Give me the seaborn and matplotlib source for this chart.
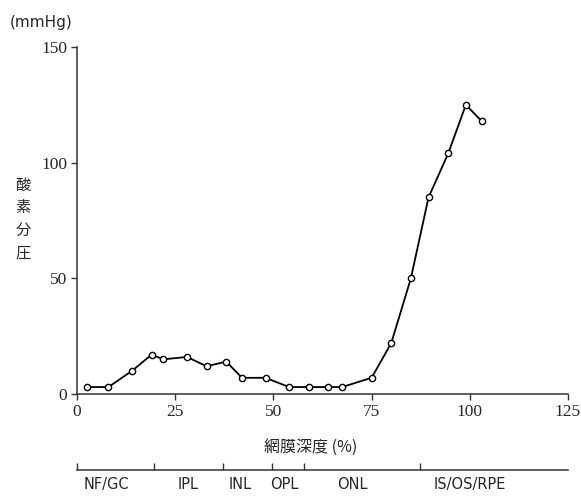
import matplotlib
matplotlib.use("Agg")
import matplotlib.pyplot as plt
import seaborn as sns
import pandas as pd

# retinal depth (%) and oxygen partial pressure (mmHg)
depth = [2.5, 8, 14, 19, 22, 28, 33, 38, 42, 48, 54, 59, 64, 67.5, 75, 80, 85, 89.5, 94.5, 99, 103]
po2 = [3, 3, 10, 17, 15, 16, 12, 14, 7, 7, 3, 3, 3, 3, 7, 22, 50, 85, 104, 125, 118]

x_ticks = [0, 25, 50, 75, 100, 125]
y_ticks = [0, 50, 100, 150]

# retinal layers under the x axis
layer_bounds = [0, 19.7, 37.2, 49.6, 57.7, 87.3]
layer_names = ["NF/GC", "IPL", "INL", "OPL", "ONL", "IS/OS/RPE"]
layer_centers = [7.6, 28.2, 41.5, 52.7, 70.2, 100]

df = pd.DataFrame({"depth": depth, "po2": po2})

sns.set_style("ticks")
plt.rcParams["font.family"] = ["Noto Sans CJK JP", "DejaVu Sans"]

fig = plt.figure(figsize=(5.81, 4.97), dpi=100)
left, right = 77 / 581, 568 / 581
bottom, top = 1 - 394 / 497, 1 - 47 / 497
ax = fig.add_axes([left, bottom, right - left, top - bottom])

sns.lineplot(data=df, x="depth", y="po2", ax=ax, color="black", linewidth=1.3,
             marker="o", markersize=4.5, markerfacecolor="white",
             markeredgecolor="black", markeredgewidth=1.0)

ax.set_xlim(0, 125)
ax.set_ylim(0, 150)
ax.set_xticks(x_ticks)
ax.set_yticks(y_ticks)
ax.set_xticklabels([str(t) for t in x_ticks], family="Liberation Serif", fontsize=12.5)
ax.set_yticklabels([str(t) for t in y_ticks], family="Liberation Serif", fontsize=12.5)
ax.tick_params(direction="out", length=4, width=1, color="#333333", pad=3)
for s in ["left", "bottom"]:
    ax.spines[s].set_color("#333333")
    ax.spines[s].set_linewidth(1.1)
sns.despine(ax=ax)
ax.set_ylabel("")
ax.set_xlabel("網膜深度 (%)", fontsize=11.5, family=["Noto Sans CJK JP", "DejaVu Sans"])
ax.xaxis.set_label_coords(0.475, -0.13)

fig.text(10 / 581, 1 - 22 / 497, "(mmHg)", fontsize=11, va="center", ha="left",
         family="DejaVu Sans")
for i, ch in enumerate("酸素分圧"):
    fig.text(23 / 581, 1 - (185 + 22.7 * i) / 497, ch, fontsize=11, ha="center", va="center")

# layer bar
ax2 = fig.add_axes([left, 1 - 470 / 497, right - left, 0.0001])
ax2.set_xlim(0, 125)
ax2.set_ylim(0, 1)
ax2.patch.set_alpha(0)
for s in ["left", "right", "top"]:
    ax2.spines[s].set_visible(False)
ax2.spines["bottom"].set_color("#333333")
ax2.spines["bottom"].set_linewidth(1.1)
ax2.set_yticks([])
ax2.set_xticks(layer_bounds)
ax2.set_xticklabels([""] * len(layer_bounds))
ax2.set_xticks(layer_centers, minor=True)
ax2.set_xticklabels(layer_names, minor=True, fontsize=10.5, family="DejaVu Sans")
ax2.tick_params(axis="x", which="major", direction="in", length=5, width=1, color="#333333")
ax2.tick_params(axis="x", which="minor", length=0, pad=5)

fig.savefig("out.png", dpi=100, facecolor="white")
